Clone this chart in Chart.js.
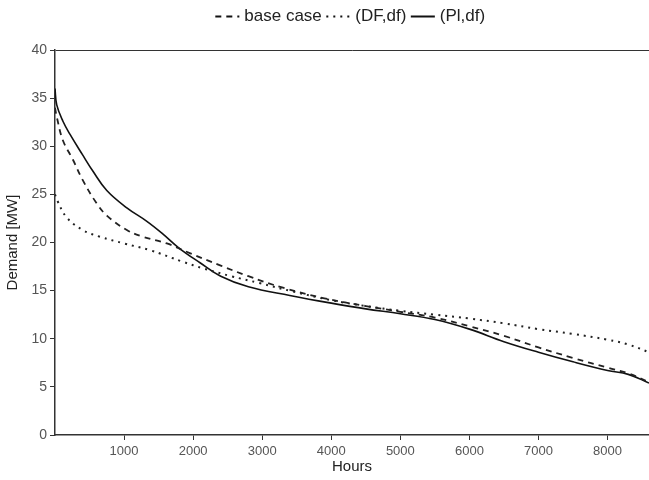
<!DOCTYPE html>
<html>
<head>
<meta charset="utf-8">
<script src="https://cdn.jsdelivr.net/npm/chart.js@4/dist/chart.umd.min.js"></script>
<style>
  html, body { margin: 0; padding: 0; background: #fff; }
  #wrap { width: 649px; height: 480px; }
</style>
</head>
<body>
<div id="wrap"><canvas id="myChart"></canvas></div>
<script>
// load duration curves
var baseHours = [0, 30, 115, 260, 400, 600, 750, 1040, 1270, 1620, 1950, 2400, 2800, 3300, 3900, 4500, 5000, 5500, 6000, 6500, 7000, 7500, 8000, 8300, 8600];
var baseCase  = [34, 32.9, 30.6, 28.6, 26.5, 24.1, 22.8, 21.3, 20.6, 19.9, 18.9, 17.6, 16.5, 15.3, 14.2, 13.4, 12.8, 12.2, 11.3, 10.3, 9.1, 8.0, 7.0, 6.4, 5.5];

var dfHours  = [0, 30, 170, 400, 650, 1000, 1375, 1850, 2150, 2550, 2950, 3450, 4000, 4500, 5000, 5500, 6000, 6500, 7000, 7500, 8000, 8300, 8600];
var dfDemand = [25, 24.4, 22.6, 21.3, 20.6, 19.9, 19.2, 18.0, 17.3, 16.5, 15.8, 14.9, 14.0, 13.4, 12.9, 12.5, 12.1, 11.6, 11.0, 10.5, 9.9, 9.4, 8.6];

var plHours  = [0, 25, 115, 220, 400, 550, 750, 1040, 1330, 1560, 1800, 2100, 2400, 2800, 3400, 4000, 4500, 5000, 5500, 6000, 6500, 7000, 7500, 8000, 8300, 8600];
var plDemand = [36, 34.3, 32.6, 31.2, 29.1, 27.4, 25.4, 23.6, 22.2, 20.9, 19.4, 17.9, 16.5, 15.4, 14.5, 13.7, 13.1, 12.6, 12.0, 11.0, 9.7, 8.6, 7.6, 6.7, 6.3, 5.4];

var xTicks = [1000, 2000, 3000, 4000, 5000, 6000, 7000, 8000];
var yTicks = [0, 5, 10, 15, 20, 25, 30, 35, 40];

var toPoints = function (xs, ys) {
  return xs.map(function (x, i) { return { x: x, y: ys[i] }; });
};

Chart.defaults.font.family = '"Liberation Sans", Arial, sans-serif';

// extra gap under the legend
var legendGap = {
  id: 'legendGap',
  beforeInit: function (chart) {
    var origFit = chart.legend.fit;
    chart.legend.fit = function () {
      origFit.bind(chart.legend)();
      this.height += 15;
    };
  }
};

var ctx = document.getElementById('myChart');

var lineChart = new Chart(ctx, {
  type: 'line',
  data: {
    datasets: [{
      label: 'base case',
      data: toPoints(baseHours, baseCase),
      borderColor: '#222',
      borderWidth: 1.8,
      borderDash: [6, 5],
      pointRadius: 0,
      tension: 0.4
    }, {
      label: '(DF,df)',
      data: toPoints(dfHours, dfDemand),
      borderColor: '#222',
      borderWidth: 2,
      borderDash: [2, 5],
      pointRadius: 0,
      tension: 0.4
    }, {
      label: '(Pl,df)',
      data: toPoints(plHours, plDemand),
      borderColor: '#111',
      borderWidth: 1.6,
      pointRadius: 0,
      tension: 0.4
    }]
  },
  plugins: [legendGap],
  options: {
    responsive: true,
    maintainAspectRatio: false,
    animation: false,
    layout: { padding: { left: 0, right: 0, top: 0, bottom: 0 } },
    plugins: {
      tooltip: { enabled: false },
      legend: {
        position: 'top',
        fullSize: false,
        labels: {
          usePointStyle: true,
          pointStyle: 'line',
          boxWidth: 20,
          padding: 8,
          color: '#222',
          font: { size: 17 },
          // legend samples keep the dash of their dataset
          generateLabels: function (chart) {
            var items = Chart.defaults.plugins.legend.labels.generateLabels(chart);
            items.forEach(function (item) {
              var ds = chart.data.datasets[item.datasetIndex];
              item.lineDash = ds.borderDash || [];
              item.lineWidth = 2;
              item.strokeStyle = '#111';
            });
            return items;
          }
        }
      }
    },
    scales: {
      x: {
        type: 'linear',
        min: 0,
        max: 8600,
        afterBuildTicks: function (scale) {
          scale.ticks = xTicks.map(function (v) { return { value: v }; });
        },
        afterFit: function (scale) { scale.height = 45; },
        ticks: {
          color: '#555',
          font: { size: 13 },
          padding: 4,
          callback: function (v) { return String(v); }
        },
        grid: { drawOnChartArea: false, drawTicks: true, tickLength: 5, color: '#333', lineWidth: 1 },
        border: { color: '#333', width: 1.5 },
        title: { display: true, text: 'Hours', color: '#222', font: { size: 15 }, padding: { top: 0 } }
      },
      y: {
        min: 0,
        max: 40,
        afterBuildTicks: function (scale) {
          scale.ticks = yTicks.map(function (v) { return { value: v }; });
        },
        afterFit: function (scale) { scale.width = 55; },
        ticks: { color: '#555', font: { size: 14 }, padding: 3 },
        grid: {
          color: function (c) { return c.tick && c.tick.value === 40 ? '#333' : 'rgba(0,0,0,0)'; },
          tickColor: '#333',
          drawTicks: true,
          tickLength: 5
        },
        border: { color: '#333', width: 1.5 },
        title: { display: true, text: 'Demand [MW]', color: '#222', font: { size: 15 }, padding: { bottom: 1 } }
      }
    }
  }
});
</script>
</body>
</html>
